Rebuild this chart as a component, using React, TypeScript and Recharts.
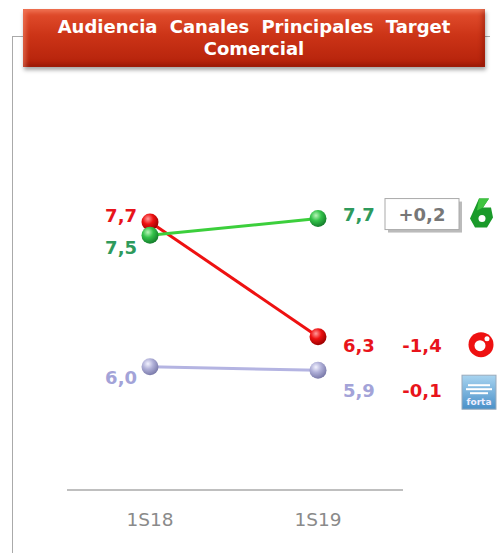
// Audiencia canales principales (target comercial): slope chart 1S18 -> 1S19
import { LineChart, Line, XAxis, YAxis, LabelList } from "recharts";

const periods = ["1S18", "1S19"];
const laSexta = [7.54, 7.74];
const cuatro = [7.7, 6.33];
const forta = [5.97, 5.93];
const deltaLabels = ["+0,2", "-1,4", "-0,1"];

const data = periods.map((p, i) => ({
  period: p,
  laSexta: laSexta[i],
  cuatro: cuatro[i],
  forta: forta[i],
}));

const FONT = "'DejaVu Sans', Verdana, sans-serif";

type SeriesKey = "laSexta" | "cuatro" | "forta";

const SERIES: Record<
  SeriesKey,
  { line: string; text: string; grad: string; leftDy: number; rightDy: number; delta: string; deltaColor: string }
> = {
  laSexta: { line: "#3ccf3c", text: "#2e9a5c", grad: "gGreen", leftDy: 12, rightDy: -4, delta: deltaLabels[0], deltaColor: "#777" },
  cuatro: { line: "#ee1111", text: "#e8141b", grad: "gRed", leftDy: -6, rightDy: 9, delta: deltaLabels[1], deltaColor: "#e8141b" },
  forta: { line: "#b4b4e2", text: "#a3a3d8", grad: "gPurple", leftDy: 11, rightDy: 20, delta: deltaLabels[2], deltaColor: "#e8141b" },
};

function fmt(v: number) {
  return v.toFixed(1).replace(".", ",");
}

function Logo({ k, x, y }: { k: SeriesKey; x: number; y: number }) {
  if (k === "laSexta") {
    return (
      <g transform={`translate(${x},${y})`}>
        <path d="M-2,-15 L8,-15 L2,-6 L10,-6 L12,4 L6,14 L-6,14 L-11,5 Z" fill="#1a9a2a" />
        <path d="M-2,-15 L8,-15 L2,-6 L-4,-3 Z" fill="#3fc43f" />
        <circle cx={1} cy={5} r={3.5} fill="#fff" />
      </g>
    );
  }
  if (k === "cuatro") {
    return (
      <g transform={`translate(${x},${y})`}>
        <circle r={12.5} fill="#ee1111" />
        <circle cx={-1} cy={1} r={5.5} fill="#fff" />
        <circle cx={6} cy={-6} r={2.5} fill="#fff" />
      </g>
    );
  }
  return (
    <g transform={`translate(${x},${y})`}>
      <rect x={-17} y={-17} width={34} height={34} fill="url(#gForta)" stroke="#9ab" strokeWidth={1} />
      <rect x={-11} y={-8} width={22} height={2} fill="#fff" />
      <rect x={-13} y={-4} width={26} height={2} fill="#fff" />
      <rect x={-9} y={0} width={18} height={2} fill="#fff" />
      <text x={0} y={13} textAnchor="middle" fontFamily={FONT} fontSize={9} fontWeight={700} fill="#eef">
        forta
      </text>
    </g>
  );
}

function ValueLabel(props: any) {
  const { x, y, value, index, k } = props as { x: number; y: number; value: number; index: number; k: SeriesKey };
  const s = SERIES[k];
  if (index === 0) {
    return (
      <text x={x - 13} y={y + s.leftDy} textAnchor="end" dominantBaseline="central" fontFamily={FONT} fontSize={18} fontWeight={700} fill={s.text}>
        {fmt(value)}
      </text>
    );
  }
  const ty = y + s.rightDy;
  return (
    <g>
      <text x={x + 25} y={ty} textAnchor="start" dominantBaseline="central" fontFamily={FONT} fontSize={18} fontWeight={700} fill={s.text}>
        {fmt(value)}
      </text>
      {k === "laSexta" && (
        <g>
          <rect x={386} y={ty - 15} width={74} height={31} fill="#bbb" transform="translate(2,2)" />
          <rect x={385} y={ty - 16} width={74} height={31} fill="#fff" stroke="#aaa" strokeWidth={1} />
        </g>
      )}
      <text x={422} y={ty} textAnchor="middle" dominantBaseline="central" fontFamily={FONT} fontSize={18} fontWeight={700} fill={s.deltaColor}>
        {s.delta}
      </text>
      <Logo k={k} x={k === "forta" ? 479 : 481} y={k === "forta" ? ty + 2 : ty - 1} />
    </g>
  );
}

function Ball(props: any) {
  const { cx, cy, grad } = props;
  if (cx == null || cy == null) return null;
  return <circle cx={cx} cy={cy} r={8.5} fill={`url(#${grad})`} />;
}

function PeriodTick(props: any) {
  const { x, y, payload } = props;
  return (
    <text x={x} y={y + 21} textAnchor="middle" dominantBaseline="central" fontFamily={FONT} fontSize={18.5} fill="#8a8a8a">
      {payload.value}
    </text>
  );
}

function gradient(id: string, light: string, mid: string, dark: string) {
  return (
    <radialGradient id={id} cx="38%" cy="32%" r="70%">
      <stop offset="0%" stopColor={light} />
      <stop offset="45%" stopColor={mid} />
      <stop offset="100%" stopColor={dark} />
    </radialGradient>
  );
}

export default function App() {
  const keys: SeriesKey[] = ["forta", "cuatro", "laSexta"];
  return (
    <div style={{ position: "absolute", left: 0, top: 0, width: 501, height: 553, background: "#fff", overflow: "hidden" }}>
      {/* frame lines */}
      <div style={{ position: "absolute", left: 12, top: 36, width: 1, height: 517, background: "#aaa" }} />
      <div style={{ position: "absolute", left: 12, top: 36, width: 478, height: 1, background: "#aaa" }} />
      <div style={{ position: "absolute", left: 0, top: 0 }}>
        <LineChart width={501} height={553} data={data} margin={{ top: 113, right: 98, bottom: 33, left: 67 }}>
          <defs>
            {gradient("gGreen", "#b8f5b8", "#33c24a", "#137a2a")}
            {gradient("gRed", "#ff9a9a", "#ee1111", "#990000")}
            {gradient("gPurple", "#f2f2ff", "#b0b0d8", "#7878a8")}
            <linearGradient id="gForta" x1="0" y1="0" x2="0" y2="1">
              <stop offset="0%" stopColor="#a8d4f0" />
              <stop offset="100%" stopColor="#4a90c8" />
            </linearGradient>
          </defs>
          <XAxis
            dataKey="period"
            height={30}
            axisLine={{ stroke: "#aaa", strokeWidth: 1.5 }}
            tickLine={false}
            tick={<PeriodTick />}
            padding={{ left: 83, right: 85 }}
          />
          <YAxis hide domain={[4.5, 9]} />
          {keys.map((k) => (
            <Line
              key={k}
              dataKey={k}
              type="linear"
              stroke={SERIES[k].line}
              strokeWidth={3}
              dot={<Ball grad={SERIES[k].grad} />}
              activeDot={false}
              isAnimationActive={false}
            >
              <LabelList dataKey={k} content={(p: any) => <ValueLabel {...p} k={k} />} />
            </Line>
          ))}
        </LineChart>
      </div>
      {/* title banner */}
      <div
        style={{
          position: "absolute",
          left: 23,
          top: 9,
          width: 462,
          height: 58,
          background: "linear-gradient(180deg, #e4502f 0%, #cc3417 45%, #b3210a 100%)",
          boxShadow: "inset 3px 3px 4px rgba(255,160,130,0.45), inset -3px -3px 4px rgba(100,10,0,0.35), 1px 3px 4px rgba(0,0,0,0.35)",
          color: "#fff",
          fontFamily: FONT,
          fontWeight: 700,
          fontSize: 18,
          lineHeight: "22px",
          textAlign: "center",
          paddingTop: 7,
          boxSizing: "border-box",
          wordSpacing: 6,
        }}
      >
        Audiencia Canales Principales Target
        <br />
        Comercial
      </div>
    </div>
  );
}
